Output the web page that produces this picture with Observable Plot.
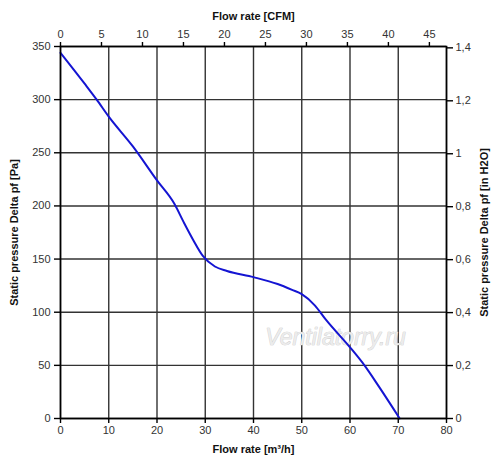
<!DOCTYPE html>
<html>
<head>
<meta charset="utf-8">
<script src="https://cdn.jsdelivr.net/npm/d3@7"></script>
<script src="https://cdn.jsdelivr.net/npm/@observablehq/plot@0.6"></script>
<style>
  html, body { margin: 0; padding: 0; background: #fff; }
  #chart svg { display: block; }
</style>
</head>
<body>
<div id="chart"></div>
<script>
// Flow rate [m³/h] vs static pressure [Pa]
const flowM3h = [0, 5, 7.5, 10, 15, 20, 23.6, 25.5, 27.5, 29.5, 32, 34.5, 40, 45, 48, 50, 52.7, 55, 60, 63, 66, 70.3];
const pressurePa = [344, 315, 300, 284, 256, 224, 202, 185, 168, 153, 143, 138.8, 133, 126.5, 121, 117, 106.5, 93, 67, 50, 30, 0];

const xTicksM3h = [0, 10, 20, 30, 40, 50, 60, 70, 80];
const yTicksPa = [0, 50, 100, 150, 200, 250, 300, 350];
const cfmTicks = [0, 5, 10, 15, 20, 25, 30, 35, 40, 45];
const inH2OTicks = [0, 0.2, 0.4, 0.6, 0.8, 1, 1.2, 1.4];
const inH2OLabels = ["0", "0,2", "0,4", "0,6", "0,8", "1", "1,2", "1,4"];

const M3H_PER_CFM = 1.699;
const PA_PER_INH2O = 249.09;

const curve = flowM3h.map((x, i) => ({x, y: pressurePa[i]}));
const cfmData = cfmTicks.map(c => ({x: c * M3H_PER_CFM, label: String(c)}));
const inData = inH2OTicks.map((v, i) => ({y: v * PA_PER_INH2O, label: inH2OLabels[i]}));

const font = "'Liberation Sans', Arial, sans-serif";

const chart = Plot.plot({
  width: 500,
  height: 467,
  marginLeft: 60,
  marginRight: 54,
  marginTop: 46,
  marginBottom: 49,
  style: {fontFamily: font, fontSize: "11px", color: "#333", background: "#fff"},
  x: {domain: [0, 80]},
  y: {domain: [0, 350]},
  marks: [
    Plot.gridX(xTicksM3h, {stroke: "#333", strokeOpacity: 1, strokeWidth: 1.4}),
    Plot.gridY(yTicksPa, {stroke: "#333", strokeOpacity: 1, strokeWidth: 1.4}),
    Plot.text(["Ventilatorry.ru"], {
      x: 57, y: 76, text: d => d, fontSize: 23, fontStyle: "italic",
      fontFamily: font,
      fill: "#ececec", stroke: "#c8c8c8", strokeWidth: 0.7, textAnchor: "middle"
    }),
    Plot.line(curve, {x: "x", y: "y", stroke: "#1414d2", strokeWidth: 2, curve: "monotone-x"}),
    Plot.frame({stroke: "#000", strokeWidth: 1.6}),
    Plot.axisX(xTicksM3h, {anchor: "bottom", tickSize: 5, tickPadding: 3, stroke: "#000", strokeWidth: 1.4, label: null, fill: "#333"}),
    Plot.axisY(yTicksPa, {anchor: "left", tickSize: 6, tickPadding: 4, stroke: "#000", strokeWidth: 1.4, label: null, fill: "#333"}),
    Plot.axisX(cfmData, {x: "x", text: "label", anchor: "top", tickSize: 5, tickPadding: 4, stroke: "#000", strokeWidth: 1.4, label: null, fill: "#333"}),
    Plot.axisY(inData, {y: "y", text: "label", anchor: "right", tickSize: 6, tickPadding: 3, stroke: "#000", strokeWidth: 1.4, label: null, fill: "#333"}),
    Plot.text(["Flow rate [m³/h]"], {frameAnchor: "bottom", dy: 34, text: d => d, fontWeight: "bold", fontSize: 11, fill: "#111"}),
    Plot.text(["Flow rate [CFM]"], {frameAnchor: "top", dy: -34, text: d => d, fontWeight: "bold", fontSize: 11, fill: "#111"}),
    Plot.text(["Static pressure Delta pf [Pa]"], {frameAnchor: "left", textAnchor: "middle", dx: -46, rotate: -90, text: d => d, fontWeight: "bold", fontSize: 11, fill: "#111"}),
    Plot.text(["Static pressure Delta pf [in H2O]"], {frameAnchor: "right", textAnchor: "middle", dx: 38, rotate: -90, text: d => d, fontWeight: "bold", fontSize: 11, fill: "#111"})
  ]
});
document.getElementById("chart").appendChild(chart);
</script>
</body>
</html>
